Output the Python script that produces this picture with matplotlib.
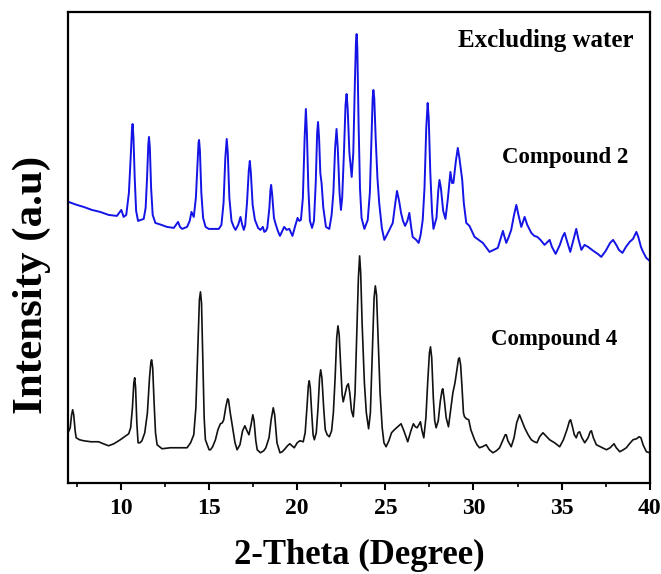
import matplotlib.pyplot as plt
import numpy as np

theta_c2 = [7.03, 7.5, 7.88, 8.35, 8.82, 9.3, 9.77, 10.02, 10.15, 10.30,
            10.45, 10.55, 10.62, 10.66, 10.71, 10.78, 10.86, 10.97, 11.29, 11.40,
            11.48, 11.55, 11.59, 11.64, 11.71, 11.80, 11.95, 12.3, 12.61, 13.0,
            13.24, 13.35, 13.47, 13.75, 13.9, 14.0, 14.08, 14.13, 14.25, 14.34,
            14.40, 14.43, 14.48, 14.56, 14.66, 14.80, 14.98, 15.2, 15.55, 15.70,
            15.82, 15.92, 16.0, 16.06, 16.15, 16.27, 16.4, 16.5, 16.65, 16.78,
            16.88, 16.97, 17.05, 17.15, 17.25, 17.31, 17.37, 17.47, 17.60, 17.78,
            17.91, 18.05, 18.13, 18.22, 18.30, 18.42, 18.48, 18.52, 18.58, 18.68,
            18.79, 18.9, 19.02, 19.15, 19.26, 19.4, 19.55, 19.73, 19.9, 20.02,
            20.12, 20.21, 20.32, 20.42, 20.49, 20.55, 20.63, 20.72, 20.84, 20.95,
            21.05, 21.13, 21.18, 21.24, 21.31, 21.38, 21.48, 21.63, 21.82, 21.95,
            22.05, 22.15, 22.23, 22.30, 22.40, 22.48, 22.55, 22.65, 22.74, 22.80,
            22.86, 22.96, 23.09, 23.18, 23.27, 23.33, 23.37, 23.41, 23.48, 23.56,
            23.65, 23.81, 24.0, 24.12, 24.22, 24.28, 24.32, 24.37, 24.45, 24.55,
            24.65, 24.80, 24.94, 25.2, 25.42, 25.55, 25.66, 25.78, 25.89, 26.0,
            26.12, 26.25, 26.36, 26.47, 26.55, 26.75, 26.89, 27.0, 27.12, 27.22,
            27.32, 27.40, 27.46, 27.55, 27.65, 27.73, 27.90, 28.0, 28.07, 28.15,
            28.28, 28.41, 28.55, 28.69, 28.78, 28.86, 29.0, 29.11, 29.2, 29.36,
            29.45, 29.59, 29.77, 30.06, 30.3, 30.53, 30.91, 31.15, 31.38, 31.55,
            31.67, 31.76, 31.86, 32.0, 32.14, 32.3, 32.43, 32.55, 32.71, 32.90,
            33.05, 33.28, 33.45, 33.62, 33.8, 34.03, 34.2, 34.32, 34.45, 34.66,
            34.9, 35.05, 35.17, 35.3, 35.49, 35.65, 35.83, 35.95, 36.12, 36.3,
            36.50, 36.8, 37.05, 37.25, 37.5, 37.75, 37.92, 38.1, 38.25, 38.45,
            38.65, 38.86, 39.05, 39.24, 39.35, 39.50, 39.62, 39.80, 40.0]
int_c2 = [281, 278, 276, 273, 271, 268, 267, 273, 266, 268,
          290, 325, 352, 359, 345, 305, 272, 262, 264, 275,
          305, 338, 346, 335, 295, 268, 260, 258, 256, 255,
          261, 256, 254, 256, 262, 271, 268, 266, 285, 318,
          340, 343, 332, 290, 265, 256, 254, 254, 254, 258,
          280, 325, 344, 330, 285, 262, 256, 253, 258, 266,
          258, 253, 258, 280, 312, 322, 310, 278, 263, 255,
          253, 256, 251, 252, 255, 275, 293, 298, 288, 265,
          258, 252, 247, 252, 256, 253, 254, 247, 258, 265,
          262, 263, 285, 345, 374, 350, 295, 262, 255, 262,
          300, 350, 361, 345, 310, 300, 275, 256, 254, 268,
          290, 335, 354, 335, 290, 273, 285, 330, 378, 389,
          375, 330, 306, 330, 400, 440, 449, 435, 360, 295,
          265, 254, 263, 290, 350, 385, 393, 385, 345, 305,
          280, 255, 243, 252, 260, 278, 292, 282, 270, 262,
          257, 262, 270, 255, 246, 243, 240, 248, 263, 295,
          355, 380, 365, 310, 270, 254, 265, 292, 303, 295,
          272, 264, 285, 311, 300, 300, 322, 335, 325, 303,
          280, 260, 257, 246, 243, 240, 231, 233, 235, 245,
          252, 246, 240, 246, 253, 268, 278, 268, 256, 266,
          258, 250, 247, 246, 243, 238, 241, 243, 236, 229,
          238, 246, 250, 242, 231, 242, 254, 244, 233, 238,
          236, 232, 229, 226, 232, 240, 243, 238, 233, 230,
          236, 241, 244, 251, 246, 236, 231, 225, 222]

theta_c4 = [7.0, 7.12, 7.2, 7.26, 7.32, 7.40, 7.46, 7.65, 7.88, 8.3,
            8.73, 9.0, 9.30, 9.6, 9.96, 10.2, 10.44, 10.55, 10.65, 10.73,
            10.78, 10.83, 10.90, 10.97, 11.08, 11.19, 11.35, 11.5, 11.62, 11.70,
            11.74, 11.80, 11.88, 11.96, 12.05, 12.33, 12.8, 13.3, 13.75, 13.95,
            14.13, 14.25, 14.35, 14.45, 14.51, 14.57, 14.65, 14.72, 14.79, 15.0,
            15.08, 15.2, 15.36, 15.5, 15.64, 15.75, 15.83, 15.95, 16.05, 16.10,
            16.2, 16.35, 16.47, 16.59, 16.75, 16.9, 17.03, 17.15, 17.26, 17.38,
            17.48, 17.55, 17.65, 17.73, 17.91, 18.1, 18.22, 18.40, 18.52, 18.64,
            18.72, 18.85, 19.02, 19.15, 19.26, 19.45, 19.58, 19.70, 19.83, 20.0,
            20.15, 20.34, 20.45, 20.55, 20.63, 20.68, 20.74, 20.82, 20.90, 20.97,
            21.08, 21.18, 21.27, 21.33, 21.40, 21.50, 21.59, 21.70, 21.82, 21.95,
            22.05, 22.15, 22.24, 22.31, 22.38, 22.47, 22.55, 22.61, 22.70, 22.82,
            22.90, 22.98, 23.08, 23.18, 23.28, 23.38, 23.47, 23.54, 23.60, 23.68,
            23.81, 23.92, 24.05, 24.15, 24.25, 24.36, 24.43, 24.50, 24.60, 24.70,
            24.82, 24.92, 25.04, 25.2, 25.35, 25.51, 25.7, 25.89, 26.05, 26.27,
            26.45, 26.59, 26.70, 26.80, 26.90, 26.99, 27.08, 27.18, 27.30, 27.40,
            27.50, 27.56, 27.63, 27.72, 27.80, 27.88, 28.0, 28.12, 28.22, 28.26,
            28.33, 28.45, 28.58, 28.70, 28.83, 28.95, 29.05, 29.15, 29.20, 29.27,
            29.35, 29.43, 29.49, 29.60, 29.73, 29.85, 30.06, 30.2, 30.34, 30.5,
            30.72, 30.9, 31.10, 31.3, 31.48, 31.65, 31.80, 31.86, 31.95, 32.14,
            32.3, 32.45, 32.61, 32.70, 32.90, 33.1, 33.28, 33.45, 33.60, 33.75,
            33.94, 34.10, 34.32, 34.6, 34.89, 35.1, 35.30, 35.45, 35.51, 35.60,
            35.72, 35.83, 35.93, 36.02, 36.15, 36.31, 36.50, 36.62, 36.69, 36.80,
            36.97, 37.2, 37.54, 37.75, 37.97, 38.10, 38.30, 38.50, 38.67, 38.85,
            39.05, 39.25, 39.40, 39.50, 39.62, 39.81, 40.0]
int_c4 = [50, 55, 68, 73, 68, 52, 45, 43, 42, 41,
          41, 39, 37, 39, 43, 46, 49, 55, 75, 100,
          105, 95, 60, 40, 40, 42, 50, 70, 105, 121,
          123, 115, 80, 50, 38, 34, 35, 35, 35, 40,
          48, 75, 130, 183, 191, 180, 120, 65, 43, 33,
          33, 36, 43, 53, 59, 60, 63, 76, 84, 83,
          70, 53, 40, 33, 38, 52, 57, 52, 48, 58,
          68, 62, 42, 33, 30, 32, 35, 45, 63, 75,
          68, 40, 30, 31, 33, 37, 39, 37, 35, 40,
          42, 41, 50, 75, 97, 102, 95, 70, 48, 43,
          50, 75, 105, 113, 105, 75, 53, 48, 46, 52,
          70, 105, 145, 157, 148, 115, 88, 81, 88, 97,
          99, 90, 72, 66, 90, 150, 205, 227, 210, 160,
          100, 70, 54, 70, 125, 185, 197, 188, 140, 90,
          55, 40, 36, 42, 50, 53, 56, 59, 52, 41,
          52, 59, 56, 55, 58, 61, 52, 45, 65, 100,
          130, 136, 125, 85, 62, 55, 62, 82, 93, 94,
          85, 65, 56, 72, 90, 100, 112, 124, 125, 118,
          95, 70, 66, 64, 63, 53, 43, 38, 35, 36,
          38, 33, 30, 32, 35, 42, 48, 48, 42, 36,
          45, 60, 68, 64, 55, 48, 43, 41, 40, 46,
          50, 47, 43, 40, 36, 43, 53, 62, 63, 57,
          48, 45, 50, 51, 45, 40, 45, 51, 52, 45,
          38, 36, 33, 35, 39, 35, 31, 33, 35, 39,
          43, 44, 46, 45, 38, 31, 30]

labels = ['Excluding water', 'Compound 2', 'Compound 4']

plt.rcParams['font.family'] = ['Liberation Serif', 'DejaVu Serif']
plt.rcParams['font.weight'] = 'bold'

fig = plt.figure(figsize=(6.61, 5.74), dpi=100)
ax = fig.add_axes([0.103, 0.159, 0.880, 0.820])

ax.plot(theta_c2, int_c2, color='#1414e6', lw=1.4)
ax.plot(theta_c4, int_c4, color='#111111', lw=1.2)

ax.set_xlim(7, 40)
ax.set_ylim(0, 471)
ax.set_yticks([])
ax.set_xticks(np.arange(10, 41, 5))
ax.set_xticks(np.arange(7.5, 40, 2.5), minor=True)
ax.tick_params(axis='x', which='major', direction='out', length=5, width=1.5, labelsize=17, pad=6)
ax.tick_params(axis='x', which='minor', direction='out', length=3, width=1.2)
for lab in ax.get_xticklabels():
    lab.set_fontweight('bold')
for s in ax.spines.values():
    s.set_linewidth(1.6)

ax.set_xlabel('2-Theta (Degree)', fontsize=25, fontweight='bold', labelpad=14)
ax.set_ylabel('Intensity (a.u)', fontsize=31, fontweight='bold')
ax.yaxis.set_label_coords(-0.03, 0.42)

ax.text(34.1, 443, labels[0], fontsize=18, fontweight='bold', ha='center', va='center')
ax.text(35.2, 325, labels[1], fontsize=16.5, fontweight='bold', ha='center', va='center')
ax.text(34.55, 143, labels[2], fontsize=16.5, fontweight='bold', ha='center', va='center')

fig.savefig('out.png', dpi=100)
